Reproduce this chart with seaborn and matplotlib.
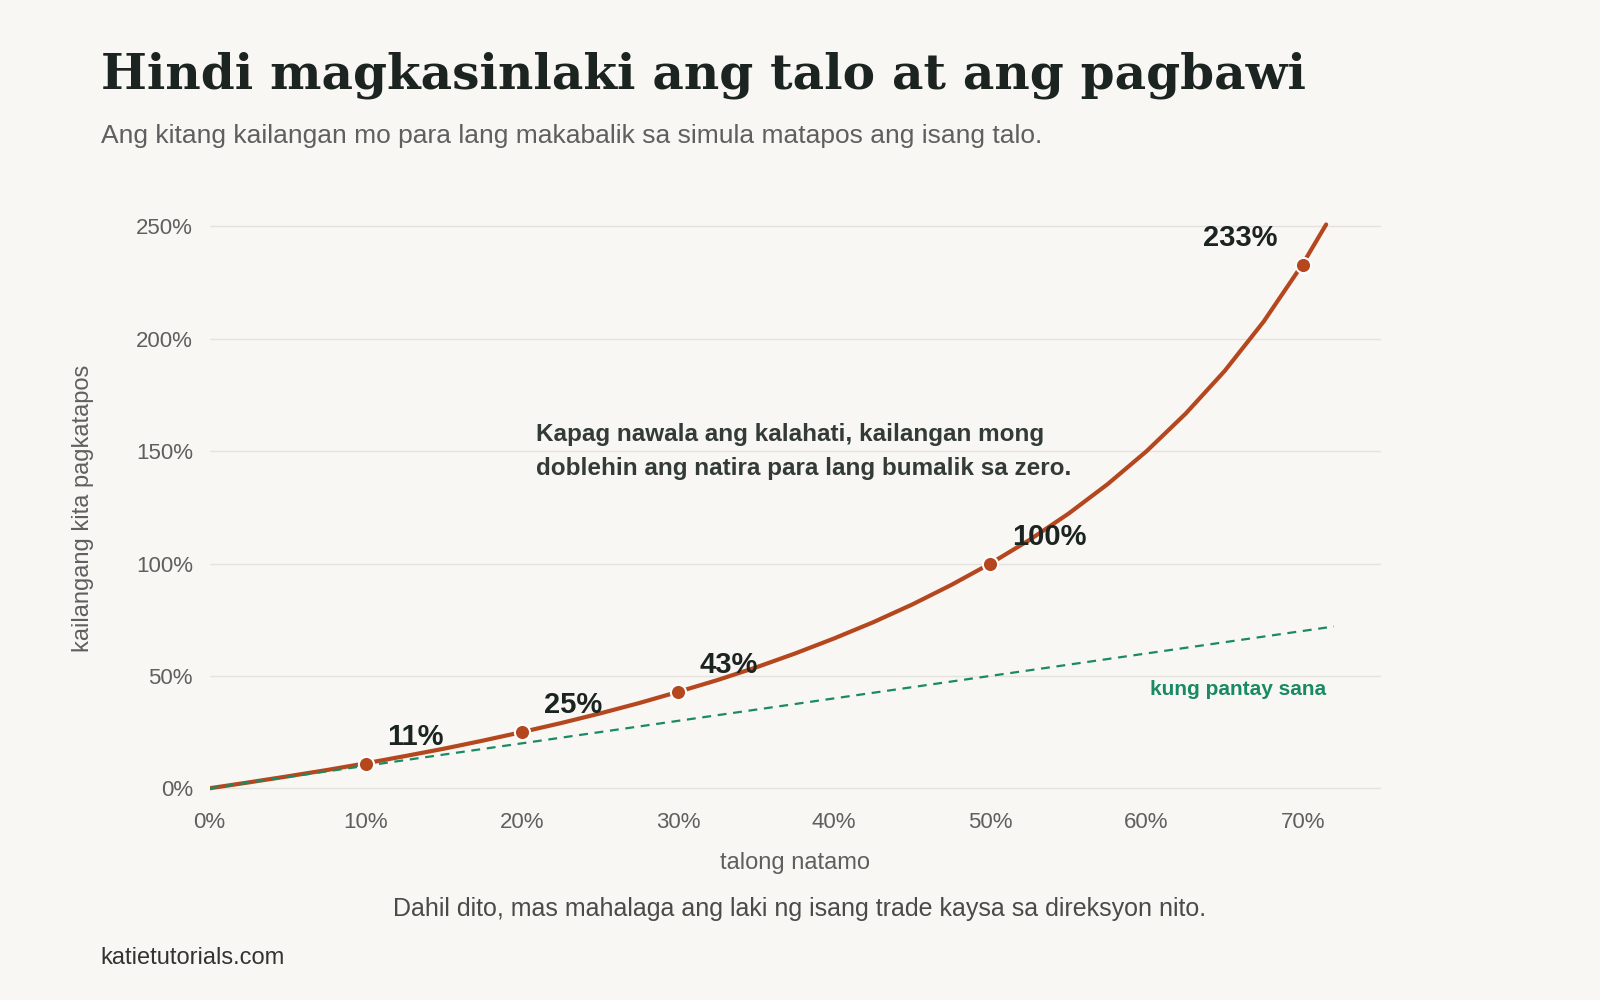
import numpy as np
import pandas as pd
import matplotlib
matplotlib.use("Agg")
import matplotlib.pyplot as plt
import seaborn as sns

# values (loss %, gain needed to recover %)
loss_pct = [0, 2.5, 5, 7.5, 10, 12.5, 15, 17.5, 20, 22.5, 25, 27.5, 30, 32.5, 35, 37.5, 40,
            42.5, 45, 47.5, 50, 52.5, 55, 57.5, 60, 62.5, 65, 67.5, 70, 71.5]
gain_pct = [0, 2.6, 5.3, 8.1, 11.1, 14.3, 17.6, 21.2, 25, 29.0, 33.3, 37.9, 42.9, 48.1, 53.8,
            60.0, 66.7, 73.9, 81.8, 90.5, 100, 110.5, 122.2, 135.3, 150, 166.7, 185.7, 207.7, 233.3, 250.9]
marked_loss = [10, 20, 30, 50, 70]
marked_gain = [11, 25, 43, 100, 233]
marked_labels = ["11%", "25%", "43%", "100%", "233%"]
even_loss = [0, 72]
even_gain = [0, 72]

bg = "#f9f7f3"
red = "#b5471f"
green = "#1a8a64"
dark = "#1b2420"
grey = "#5f5f5f"

sns.set_theme(style="white")
plt.rcParams['font.family'] = ['Liberation Sans', 'DejaVu Sans']

fig = plt.figure(figsize=(16, 10), dpi=100, facecolor=bg)
ax = fig.add_axes([0.131, 0.205, 0.732, 0.573], facecolor=bg)

curve = pd.DataFrame({"loss": loss_pct, "gain": gain_pct})
sns.lineplot(data=curve, x="loss", y="gain", ax=ax, color=red, lw=3)
sns.lineplot(x=even_loss, y=even_gain, ax=ax, color=green, lw=1.6, linestyle=(0, (4, 3)))
sns.scatterplot(x=marked_loss, y=marked_gain, ax=ax, color=red, s=120,
                edgecolor="white", linewidth=1.5, zorder=5)

offsets = [(1.4, 12), (1.4, 12), (1.4, 12), (1.4, 12), (-6.4, 12)]
for x, y, t, (dx, dy) in zip(marked_loss, marked_gain, marked_labels, offsets):
    ax.text(x + dx, y + dy, t, fontsize=21, fontweight="bold", color=dark, ha="left", va="center")

ax.text(20.9, 150, "Kapag nawala ang kalahati, kailangan mong\ndoblehin ang natira para lang bumalik sa zero.",
        fontsize=17.5, fontweight="bold", color="#333b37", ha="left", va="center", linespacing=1.6)
ax.text(71.5, 44, "kung pantay sana", fontsize=15, fontweight="bold", color=green, ha="right", va="center")

ax.set_xlim(0, 75)
ax.set_ylim(-3, 252)
ax.set_xticks(range(0, 71, 10))
ax.set_xticklabels([f"{v}%" for v in range(0, 71, 10)])
ax.set_yticks(range(0, 251, 50))
ax.set_yticklabels([f"{v}%" for v in range(0, 251, 50)])
ax.tick_params(labelsize=16, colors=grey, length=0, pad=12)
ax.grid(axis="y", color="#e4e2dd", lw=1)
for s in ax.spines.values():
    s.set_visible(False)
ax.set_xlabel("talong natamo", fontsize=17, color=grey, labelpad=14)
ax.set_ylabel("kailangang kita pagkatapos", fontsize=17, color=grey, labelpad=30)

fig.text(0.063, 0.925, "Hindi magkasinlaki ang talo at ang pagbawi", fontsize=35,
         fontweight="bold", family="DejaVu Serif", color=dark, va="center")
fig.text(0.063, 0.864, "Ang kitang kailangan mo para lang makabalik sa simula matapos ang isang talo.",
         fontsize=19, color=grey, va="center")
fig.text(0.5, 0.091, "Dahil dito, mas mahalaga ang laki ng isang trade kaysa sa direksyon nito.",
         fontsize=18, color="#4a4a4a", ha="center", va="center")
fig.text(0.063, 0.042, "katietutorials.com", fontsize=17, color="#333333", va="center")

fig.savefig("out.png", dpi=100, facecolor=bg)
